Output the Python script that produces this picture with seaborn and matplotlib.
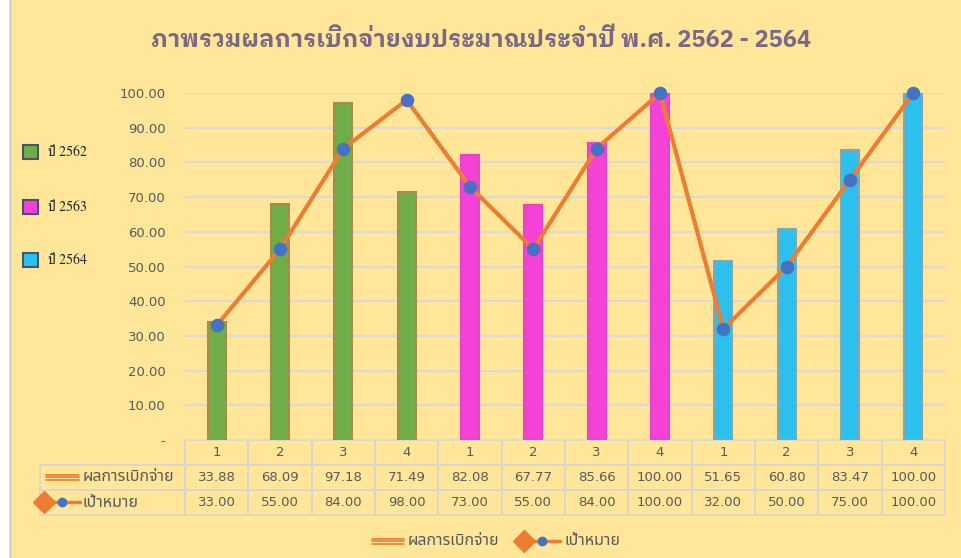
import numpy as np
import pandas as pd
import seaborn as sns
import matplotlib.pyplot as plt
from matplotlib.lines import Line2D
from matplotlib.patches import Rectangle

# data
quarters = ['1', '2', '3', '4'] * 3
years = ['ปี 2562'] * 4 + ['ปี 2563'] * 4 + ['ปี 2564'] * 4
spent = [33.88, 68.09, 97.18, 71.49, 82.08, 67.77, 85.66, 100.00, 51.65, 60.80, 83.47, 100.00]
target = [33.00, 55.00, 84.00, 98.00, 73.00, 55.00, 84.00, 100.00, 32.00, 50.00, 75.00, 100.00]
year_names = ['ปี 2562', 'ปี 2563', 'ปี 2564']
year_colors = ['#70AD47', '#F542D6', '#2CC0EE']
year_edges = ['#A98C4A', '#EE40D0', '#8EA3A8']

BG = '#FFE699'
TXT = '#595959'
W, H = 962, 558


def fx(px):
    return px / W


def fy(py):
    return 1 - py / H


df = pd.DataFrame({'pos': range(12), 'value': spent, 'year': years})

sns.set_style('white')
plt.rcParams['font.family'] = ['Noto Sans Thai', 'DejaVu Sans']

fig = plt.figure(figsize=(9.62, 5.58), dpi=100, facecolor=BG)
ax = fig.add_axes([fx(185), fy(440), fx(945) - fx(185), fy(93) - fy(440)])
ax.set_facecolor(BG)

sns.barplot(data=df, x='pos', y='value', hue='year', palette=year_colors,
            saturation=1, dodge=False, width=0.28, linewidth=1.5, legend=False, ax=ax)
for cont, ec in zip(ax.containers, year_edges):
    for bar in cont:
        bar.set_edgecolor(ec)

sns.lineplot(x=list(range(12)), y=target, color='#ED7D31', lw=3, marker='o',
             markersize=9, markerfacecolor='#4472C4', markeredgecolor='#4472C4',
             ax=ax, zorder=5, clip_on=False)

ax.set_xlim(-0.5, 11.5)
ax.set_ylim(0, 100)
ax.set_yticks(np.arange(0, 101, 10))
ax.set_yticklabels(['-'] + ['%.2f' % v for v in np.arange(10, 101, 10)],
                   fontsize=9.5, color=TXT, family='DejaVu Sans')
ax.tick_params(axis='y', length=0, pad=14)
ax.set_xticks([])
ax.set_xlabel('')
ax.set_ylabel('')
ax.yaxis.grid(True, color='#D9D9D9', lw=1.5)
ax.set_axisbelow(True)
for s in ax.spines.values():
    s.set_visible(False)

# data table under the plot
first_w = 145 / 760
rows = [[''] + quarters,
        [''] + ['%.2f' % v for v in spent],
        [''] + ['%.2f' % v for v in target]]
tbl = ax.table(cellText=rows, cellLoc='center',
               colWidths=[first_w] + [1 / 12] * 12,
               bbox=[-first_w, -75 / 347, 1 + first_w, 75 / 347])
tbl.auto_set_font_size(False)
for (r, c), cell in tbl.get_celld().items():
    cell.set_facecolor('none')
    cell.set_edgecolor('#D9D6CC')
    cell.set_linewidth(1.2)
    cell.get_text().set_color(TXT)
    cell.get_text().set_fontsize(9.5)
    cell.get_text().set_family('DejaVu Sans')
tbl[0, 0].visible_edges = 'BR'

# row labels with legend keys
fig.text(fx(83), fy(477), 'ผลการเบิกจ่าย', fontsize=11.5, color=TXT, va='center')
fig.text(fx(83), fy(503), 'เป้าหมาย', fontsize=11.5, color=TXT, va='center')
for dy in (-2.5, 0, 2.5):
    fig.add_artist(Line2D([fx(46), fx(79)], [fy(477 + dy)] * 2, color='#ED7D31', lw=1.2))
fig.add_artist(Line2D([fx(44), fx(80)], [fy(502)] * 2, color='#ED7D31', lw=2.5))
fig.add_artist(Line2D([fx(44)], [fy(502)], marker='D', color='#ED7D31', markersize=11))
fig.add_artist(Line2D([fx(62)], [fy(502)], marker='o', color='#4472C4', markersize=6))

# bottom legend
for dy in (-2.5, 0, 2.5):
    fig.add_artist(Line2D([fx(372), fx(404)], [fy(541 + dy)] * 2, color='#ED7D31', lw=1.2))
fig.text(fx(408), fy(541), 'ผลการเบิกจ่าย', fontsize=11.5, color=TXT, va='center')
fig.add_artist(Line2D([fx(520), fx(560)], [fy(541)] * 2, color='#ED7D31', lw=2.5))
fig.add_artist(Line2D([fx(524)], [fy(541)], marker='D', color='#ED7D31', markersize=11))
fig.add_artist(Line2D([fx(542)], [fy(541)], marker='o', color='#4472C4', markersize=6))
fig.text(fx(564), fy(541), 'เป้าหมาย', fontsize=11.5, color=TXT, va='center')

# year legend on the left
for name, col, py in zip(year_names, year_colors, [152, 207, 260]):
    fig.add_artist(Rectangle((fx(23), fy(py + 7)), fx(15), fy(0) - fy(14),
                             facecolor=col, edgecolor='#44546A', lw=1.5))
    fig.text(fx(48), fy(py), name, fontsize=10, color='#222222', va='center',
             family=['FreeSerif', 'DejaVu Serif'])

# title
fig.text(fx(481), fy(40), 'ภาพรวมผลการเบิกจ่ายงบประมาณประจำปี พ.ศ. 2562 - 2564',
         fontsize=17, fontweight='bold', color='#7A6888', ha='center', va='center',
         family=['IBM Plex Sans Thai Looped', 'DejaVu Sans'])

# chart border
fig.add_artist(Rectangle((0, 0), fx(9), 1, facecolor='white', edgecolor='none'))
fig.add_artist(Line2D([fx(9.5)] * 2, [0, 1], color='#C8C8C8', lw=1))

fig.savefig('out.png', facecolor=BG)
